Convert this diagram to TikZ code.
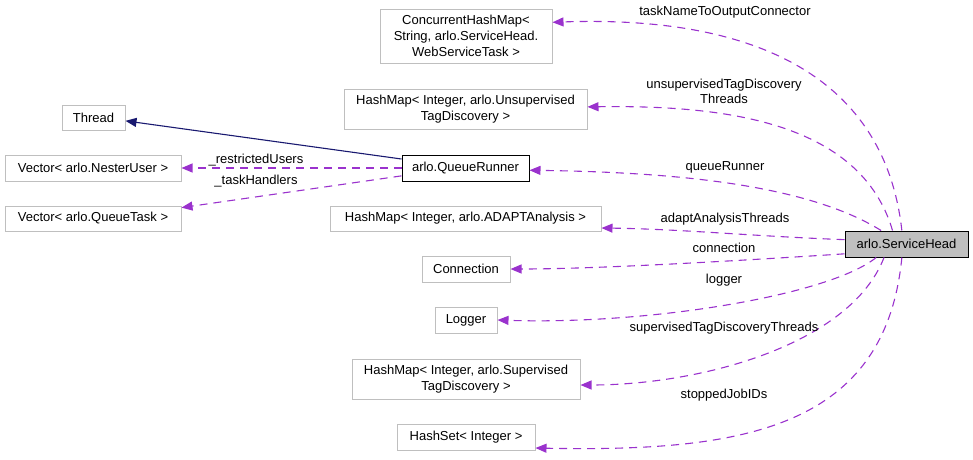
\documentclass[tikz,border=0pt]{standalone}
\usepackage{fontspec}
\setmainfont{Liberation Sans}
\usetikzlibrary{arrows.meta}
\definecolor{boxgray}{HTML}{BFBFBF}
\definecolor{usepurple}{HTML}{9A32CD}
\definecolor{inhnavy}{HTML}{191970}
\tikzset{
  cls/.style={draw=boxgray, line width=1pt, inner sep=0pt, align=center,
    font=\fontsize{13}{16}\selectfont},
  lbl/.style={inner sep=0pt, align=center, font=\fontsize{13}{15}\selectfont},
  usage/.style={usepurple, line width=1.1pt, dash pattern=on 8pt off 6pt,
    -{Triangle[length=11pt,width=9pt]}},
  inherit/.style={inhnavy, line width=1.1pt, -{Triangle[length=11pt,width=9pt]}}
}
\begin{document}
\begin{tikzpicture}[x=1pt, y=-1pt]
  \useasboundingbox (0,0) rectangle (973,459);

  % left column
  \node[cls, minimum width=63, minimum height=25] (thread) at (93.5,117.5) {Thread};
  \node[cls, minimum width=176, minimum height=26] (nester) at (93,168) {Vector< arlo.NesterUser >};
  \node[cls, minimum width=176, minimum height=25] (qtask) at (93,218.5) {Vector< arlo.QueueTask >};

  % middle column
  \node[cls, minimum width=172, minimum height=54] (conc) at (466,36)
    {ConcurrentHashMap<\\ String, arlo.ServiceHead.\\WebServiceTask >};
  \node[cls, minimum width=243, minimum height=40] (unsup) at (465.5,109)
    {HashMap< Integer, arlo.Unsupervised\\TagDiscovery >};
  \node[cls, draw=black, minimum width=127, minimum height=26] (qrunner) at (465.5,168) {arlo.QueueRunner};
  \node[cls, minimum width=271, minimum height=25] (adapt) at (465.5,218.5) {HashMap< Integer, arlo.ADAPTAnalysis >};
  \node[cls, minimum width=88, minimum height=26] (conn) at (466,269) {Connection};
  \node[cls, minimum width=62, minimum height=26] (logger) at (466,320) {Logger};
  \node[cls, minimum width=228, minimum height=40] (sup) at (466,379)
    {HashMap< Integer, arlo.Supervised\\TagDiscovery >};
  \node[cls, minimum width=138, minimum height=26] (hset) at (466,437) {HashSet< Integer >};

  % the class itself
  \node[cls, draw=black, fill=boxgray, minimum width=123, minimum height=26] (shead) at (906.5,244) {arlo.ServiceHead};

  % QueueRunner
  \draw[inherit] (qrunner.172) -- (thread.-6);
  \draw[usage] (qrunner.west) -- (nester.east);
  \draw[usage] (qrunner.187) -- (qtask.7);
  \node[lbl] (lrestr) at (256,160) {\_restrictedUsers};
  \node[lbl] (ltask) at (256,181) {\_taskHandlers};

  % ServiceHead members
  \draw[usage] (shead.109) .. controls (885,80) and (760,15) .. (conc.9);
  \draw[usage] (shead.136) .. controls (860,120) and (720,105) .. (unsup.1);
  \draw[usage] (shead.152) .. controls (800,180) and (650,172) .. (qrunner.-2);
  \draw[usage] (shead.176) .. controls (750,236) and (680,229) .. (adapt.-4);
  \draw[usage] (shead.189) .. controls (750,260) and (600,269) .. (conn.east);
  \draw[usage] (shead.204) .. controls (830,295) and (650,325) .. (logger.east);
  \draw[usage] (shead.211) .. controls (850,345) and (700,385) .. (sup.-3);
  \draw[usage] (shead.251) .. controls (885,430) and (740,452) .. (hset.-9);

  \node[lbl] (ltname) at (725,12) {taskNameToOutputConnector};
  \node[lbl] (lunsup) at (724,91) {unsupervisedTagDiscovery\\Threads};
  \node[lbl] (lqrun) at (725,167) {queueRunner};
  \node[lbl] (ladapt) at (725,219) {adaptAnalysisThreads};
  \node[lbl] (lconn) at (724,248) {connection};
  \node[lbl] (llog) at (724,280) {logger};
  \node[lbl] (lsup) at (724,328) {supervisedTagDiscoveryThreads};
  \node[lbl] (lstop) at (724,395) {stoppedJobIDs};
\end{tikzpicture}
\end{document}
